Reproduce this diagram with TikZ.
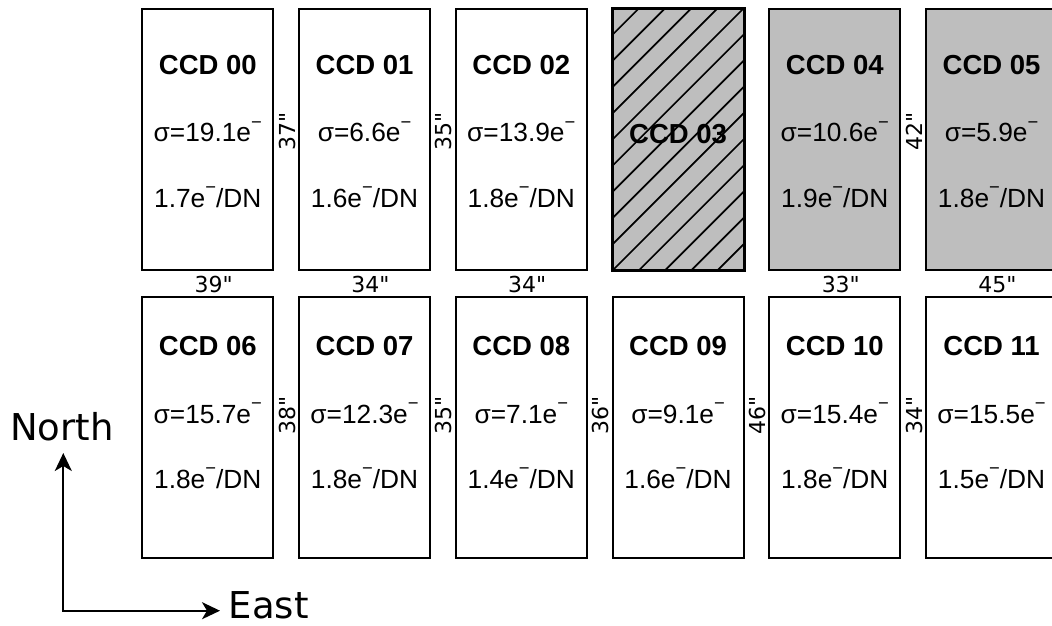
\documentclass[tikz,border=0pt]{standalone}
\usepackage{fontspec}
\setmainfont{Liberation Sans}
\newfontfamily\dvs{DejaVu Sans}
\usetikzlibrary{arrows.meta}
\definecolor{ccdgray}{RGB}{190,190,190}
\newcommand\elec{e\raisebox{0.52em}{\scalebox{0.7}{−}}}
% #1 name, #2 centre x, #3 centre y, #4 title baseline y, #5 number, #6 sigma, #7 gain, #8 extra box style
\newcommand\ccdunit[8]{%
  \node[ccdbox,#8] (#1) at (#2,#3) {};
  \node[ttl] (#1t) at (#2,#4) {CCD #5};
  \node[val] (#1s) at (#2,{#4+67.7}) {σ=#6\elec};
  \node[val] (#1g) at (#2,{#4+133}) {#7\elec/DN};
}
\begin{document}
\begin{tikzpicture}[x=1pt,y=-1pt,
  ccdbox/.style={draw=black,line width=2pt,minimum width=131pt,minimum height=261pt,inner sep=0pt},
  ttl/.style={font=\bfseries\fontsize{27.5}{30}\selectfont,anchor=base,inner sep=0pt},
  val/.style={font=\fontsize{26.3}{30}\selectfont,anchor=base,inner sep=0pt},
  hgap/.style={font=\dvs\fontsize{22}{26}\selectfont,anchor=base,inner sep=0pt},
  vgap/.style={font=\dvs\fontsize{22}{26}\selectfont,rotate=90,inner sep=0pt},
  dirlabel/.style={font=\dvs\fontsize{37}{42}\selectfont,anchor=base west,inner sep=0pt,text depth=0pt},
  hatchline/.style={line width=1.7pt},
  axis/.style={line width=2pt,line join=miter,{Stealth[length=18pt,width=17pt,inset=5pt]}-{Stealth[length=18pt,width=17pt,inset=5pt]}}]
\clip (0,0) rectangle (1052,625);
\fill[white] (0,0) rectangle (1052,625);
% top row
\ccdunit{ccd00}{207.8}{139.5}{74}{00}{19.1}{1.7}{}
\ccdunit{ccd01}{364.55}{139.5}{74}{01}{6.6}{1.6}{}
\ccdunit{ccd02}{521.3}{139.5}{74}{02}{13.9}{1.8}{}
\node[ccdbox,fill=ccdgray] (ccd03) at (678.05,139.5) {};
\begin{scope}
  \clip (ccd03.south west) rectangle (ccd03.north east);
  \foreach \k in {-6,...,11} {
    \draw[hatchline] ({883-26.2*\k-300},300) -- ({883-26.2*\k},0);
  }
\end{scope}
\draw[line width=2pt] (ccd03.south west) rectangle (ccd03.north east);
\node[ttl] (ccd03t) at (678.05,143.3) {CCD 03};
\ccdunit{ccd04}{834.8}{139.5}{74}{04}{10.6}{1.9}{fill=ccdgray}
\ccdunit{ccd05}{991.55}{139.5}{74}{05}{5.9}{1.8}{fill=ccdgray}
% bottom row
\ccdunit{ccd06}{207.8}{427.5}{355.5}{06}{15.7}{1.8}{}
\ccdunit{ccd07}{364.55}{427.5}{355.5}{07}{12.3}{1.8}{}
\ccdunit{ccd08}{521.3}{427.5}{355.5}{08}{7.1}{1.4}{}
\ccdunit{ccd09}{678.05}{427.5}{355.5}{09}{9.1}{1.6}{}
\ccdunit{ccd10}{834.8}{427.5}{355.5}{10}{15.4}{1.8}{}
\ccdunit{ccd11}{991.55}{427.5}{355.5}{11}{15.5}{1.5}{}
% horizontal gap labels
\node[hgap] (h00) at (213.8,292.5) {39"};
\node[hgap] (h01) at (370.5,292.5) {34"};
\node[hgap] (h02) at (527.3,292.5) {34"};
\node[hgap] (h04) at (840.8,292.5) {33"};
\node[hgap] (h05) at (997.5,292.5) {45"};
% vertical gap labels, top row
\node[vgap] (v0001) at (287.2,131.7) {37"};
\node[vgap] (v0102) at (443.9,131.7) {35"};
\node[vgap] (v0405) at (914.2,131.7) {42"};
% vertical gap labels, bottom row
\node[vgap] (v0607) at (287.2,415) {38"};
\node[vgap] (v0708) at (443.9,415) {35"};
\node[vgap] (v0809) at (600.7,415) {36"};
\node[vgap] (v0910) at (757.4,415) {46"};
\node[vgap] (v1011) at (914.2,415) {34"};
% compass
\node[dirlabel] (north) at (10,440) {North};
\node[dirlabel] (east) at (228.5,618) {East};
\coordinate (corner) at (63.3,610.7);
\coordinate (ntip) at (63.3,453);
\coordinate (etip) at (220,610.7);
\draw[axis] (ntip) -- (corner) -- (etip);
\end{tikzpicture}
\end{document}
